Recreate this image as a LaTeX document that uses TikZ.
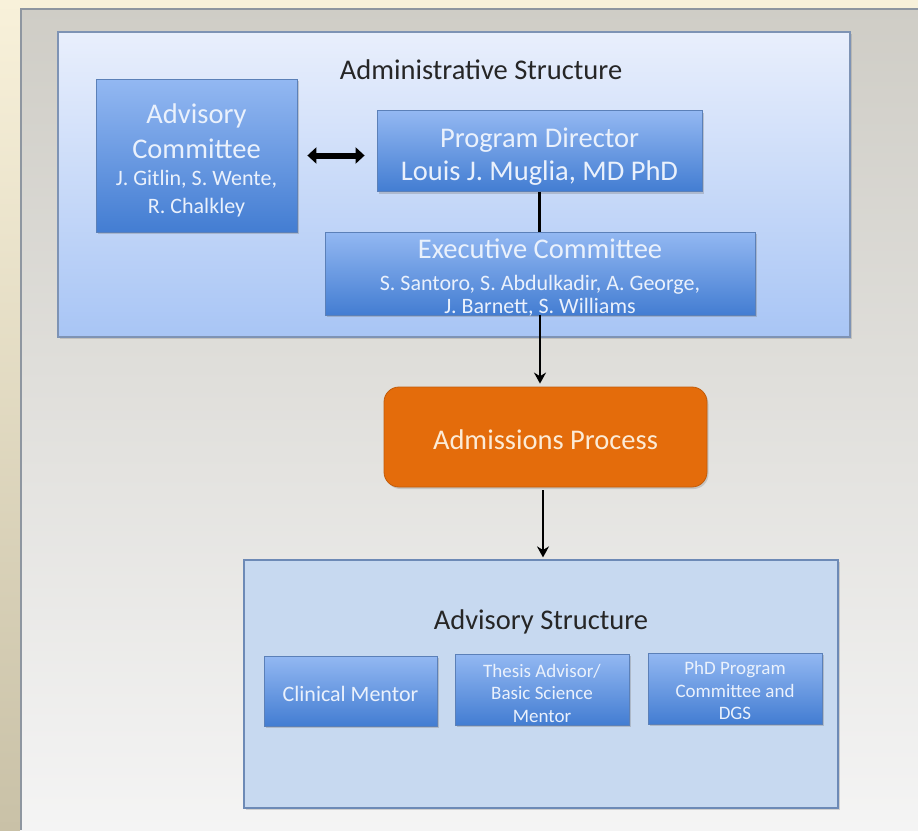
\documentclass[tikz,border=0pt]{standalone}
\usepackage{fontspec}
\setmainfont{Carlito}
\usetikzlibrary{arrows.meta,shadows,calc}
\definecolor{boxtop}{HTML}{93B8F2}
\definecolor{boxbot}{HTML}{437DD2}
\definecolor{boxline}{HTML}{5B80B8}
\definecolor{boxtext}{HTML}{EAF1FC}
\definecolor{admtop}{HTML}{E9EFFC}
\definecolor{admbot}{HTML}{A8C5F5}
\definecolor{admline}{HTML}{7E93B4}
\definecolor{advfill}{HTML}{C7D9F0}
\definecolor{advline}{HTML}{6D8AB6}
\definecolor{orangefill}{HTML}{E46C0B}
\definecolor{orangeline}{HTML}{C25C0A}
\definecolor{orangetext}{HTML}{FCEBD6}
\definecolor{paneltop}{HTML}{CFCDC6}
\definecolor{panelbot}{HTML}{F4F4F4}
\definecolor{panelline}{HTML}{8E96A0}
\definecolor{beigetop}{HTML}{F8F1DA}
\definecolor{beigebot}{HTML}{C9C1A7}
\newcommand{\bigtxt}{\fontsize{28.5}{33}\selectfont}
\newcommand{\smalltxt}{\fontsize{22}{26}\selectfont}
\tikzset{
  bluebox/.style={draw=boxline, line width=0.8pt, top color=boxtop, bottom color=boxbot,
    inner sep=0pt,
    drop shadow={shadow xshift=1.5pt, shadow yshift=-2pt, opacity=0.35}},
  boxlabel/.style={text=boxtext, align=center, inner sep=0pt},
  container/.style={draw=admline, line width=1.2pt, inner sep=0pt},
  conn/.style={line width=2.6pt, draw=black},
  connarrow/.style={conn, -{Stealth[length=11pt,width=12pt]}},
  dblarrow/.style={line width=6pt, {Triangle[length=9pt,width=16pt]}-{Triangle[length=9pt,width=16pt]}},
}
\begin{document}
\begin{tikzpicture}[x=1pt,y=-1pt]
\useasboundingbox (0,0) rectangle (918,830);
% background
\shade[top color=beigetop, bottom color=beigebot] (0,0) rectangle (918,830);
\shade[top color=paneltop, bottom color=panelbot] (20,8) rectangle (918,830);
\draw[panelline, line width=1.5pt] (20.75,830) -- (20.75,8.75) -- (918,8.75);
% administrative container
\node[container, top color=admtop, bottom color=admbot, minimum width=792pt, minimum height=305pt,
  drop shadow={shadow xshift=1.5pt, shadow yshift=-2pt, opacity=0.3}] (admin) at (454,184.5) {};
\node[font=\bigtxt, text=black!85] (admintitle) at (481,70) {Administrative Structure};
% advisory committee
\node[bluebox, minimum width=201pt, minimum height=153pt] (ac) at (196.5,155.5) {};
\node[boxlabel, font=\fontsize{28.5}{35}\selectfont] (actext) at ($(ac.center)+(0,5)$)
  {Advisory\\Committee\\[-8pt]{\smalltxt J. Gitlin, S. Wente,}\\[-7pt]{\smalltxt R. Chalkley}};
% program director
\node[bluebox, minimum width=325pt, minimum height=81pt] (pd) at (539.5,151) {};
\node[boxlabel, font=\bigtxt] (pdtext) at ($(pd.center)+(0,6)$)
  {Program Director\\Louis J. Muglia, MD PhD};
% executive committee
\node[bluebox, minimum width=430pt, minimum height=83pt] (ec) at (540,273.5) {};
\node[boxlabel, font=\bigtxt] (ectext) at ($(ec.center)+(0,4.5)$)
  {Executive Committee\\[-1pt]{\smalltxt S. Santoro, S. Abdulkadir, A. George,}\\[-10pt]{\smalltxt J. Barnett, S. Williams}};
% admissions
\node[draw=orangeline, line width=0.8pt, fill=orangefill, rounded corners=15pt,
  minimum width=323pt, minimum height=100pt, inner sep=0pt,
  drop shadow={shadow xshift=1.5pt, shadow yshift=-2pt, opacity=0.3}] (adm) at (545.5,437) {};
\node[boxlabel, text=orangetext, font=\bigtxt] (admtext) at ($(adm.center)+(0,3)$) {Admissions Process};
% advisory structure container
\node[container, draw=advline, fill=advfill, minimum width=594pt, minimum height=248pt,
  drop shadow={shadow xshift=1.5pt, shadow yshift=-2pt, opacity=0.3}] (as) at (541,684) {};
\node[font=\bigtxt, text=black!85] (astitle) at (541,621.5) {Advisory Structure};
\node[bluebox, minimum width=173pt, minimum height=70pt] (cm) at (350.5,691) {};
\node[boxlabel, font=\fontsize{22}{26}\selectfont] (cmtext) at ($(cm.center)+(0,3)$) {Clinical Mentor};
\node[bluebox, minimum width=174pt, minimum height=71pt] (ta) at (542,689.5) {};
\node[boxlabel, font=\fontsize{19}{22.5}\selectfont] (tatext) at ($(ta.center)+(0,3.5)$)
  {Thesis Advisor/\\Basic Science\\Mentor};
\node[bluebox, minimum width=174pt, minimum height=71pt] (phd) at (735,688.5) {};
\node[boxlabel, font=\fontsize{19}{22.5}\selectfont] (phdtext) at ($(phd.center)+(0,2)$)
  {PhD Program\\Committee and\\DGS};
% connectors
\draw[dblarrow, shorten <=10pt, shorten >=12pt] (ac.east) -- (ac.east -| pd.west);
\draw[conn] (pd.south) -- (pd.south |- ec.north);
\draw[connarrow, shorten >=3pt] (ec.south) -- (ec.south |- adm.north);
\draw[connarrow, shorten <=3pt, shorten >=2pt] ($(adm.south)+(-2.5,0)$) -- ($(adm.south |- as.north)+(-2.5,0)$);
\end{tikzpicture}
\end{document}
